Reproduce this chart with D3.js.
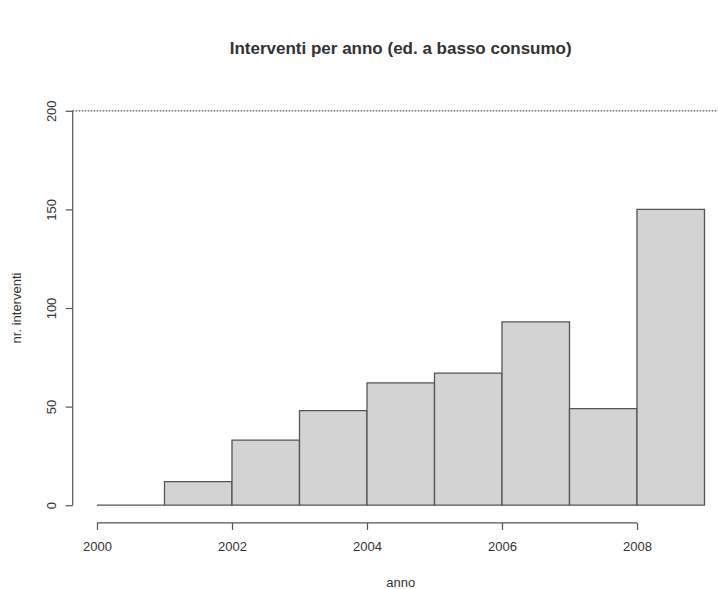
<!DOCTYPE html>
<html>
<head>
<meta charset="utf-8">
<script src="https://cdn.jsdelivr.net/npm/d3@7"></script>
<style>
  body { margin: 0; background: #fff; }
  svg { display: block; }
  text { font-family: "Liberation Sans", Arial, Helvetica, sans-serif; fill: #333; }
</style>
</head>
<body>
<svg id="chart" width="718" height="589"></svg>
<script>
// Data
const binStarts = [2000, 2001, 2002, 2003, 2004, 2005, 2006, 2007, 2008];
const counts    = [0, 12, 33, 48, 62, 67, 93, 49, 150];
const xTicks = [2000, 2002, 2004, 2006, 2008];
const yTicks = [0, 50, 100, 150, 200];
const refLine = 200;

const title = "Interventi per anno (ed. a basso consumo)";
const xLabel = "anno";
const yLabel = "nr. interventi";

const svg = d3.select("#chart");
const ink = "#555";

const x = d3.scaleLinear().domain([1999.64, 2009.36]).range([72.7, 728.8]);
const y = d3.scaleLinear().domain([-8, 208]).range([521, 95]);

// Bars (histogram style)
svg.append("g").selectAll("path")
  .data(binStarts.map((s, i) => ({s, e: s + 1, v: counts[i]})))
  .join("path")
  .attr("d", d => `M${x(d.s)},${y(0)}V${y(d.v)}H${x(d.e)}V${y(0)}Z`)
  .attr("fill", "#d3d3d3")
  .attr("stroke", ink)
  .attr("stroke-width", 1.3);

// Reference dotted line
svg.append("line")
  .attr("x1", x(1999.64)).attr("x2", x(2009.36))
  .attr("y1", y(refLine)).attr("y2", y(refLine))
  .attr("stroke", "#555").attr("stroke-width", 1.3)
  .attr("stroke-dasharray", "1.5,1.5");

// Y axis
const yAxis = svg.append("g")
  .attr("transform", `translate(${x(1999.64)},0)`)
  .call(d3.axisLeft(y).tickValues(yTicks).tickSize(7).tickSizeOuter(0).tickPadding(14));
yAxis.select(".domain").attr("d", `M0,${y(yTicks[0])}V${y(yTicks[yTicks.length-1])}`)
  .attr("stroke", ink).attr("stroke-width", 1.2);
yAxis.selectAll(".tick line").attr("stroke", ink).attr("stroke-width", 1.2);
yAxis.selectAll(".tick text")
  .attr("font-size", 13)
  .attr("fill", "#333")
  .attr("text-anchor", "middle")
  .attr("dy", null)
  .attr("x", null)
  .attr("transform", "translate(-21,0) rotate(-90)")
  .attr("dominant-baseline", "central");

// X axis
const xAxis = svg.append("g")
  .attr("transform", `translate(0,${y(-9)})`)
  .call(d3.axisBottom(x).tickValues(xTicks).tickFormat(d3.format("d")).tickSize(7).tickSizeOuter(0).tickPadding(12));
xAxis.select(".domain").attr("d", `M${x(xTicks[0])},0H${x(xTicks[xTicks.length-1])}`)
  .attr("stroke", ink).attr("stroke-width", 1.2);
xAxis.selectAll(".tick line").attr("stroke", ink).attr("stroke-width", 1.2);
xAxis.selectAll(".tick text").attr("font-size", 13).attr("fill", "#333");
svg.selectAll(".domain").attr("fill", "none");

// Title & labels
svg.append("text")
  .attr("x", 400.7).attr("y", 54)
  .attr("text-anchor", "middle")
  .attr("font-size", 17).attr("font-weight", "bold").attr("fill", "#222")
  .text(title);

svg.append("text")
  .attr("x", 400.7).attr("y", 587)
  .attr("text-anchor", "middle")
  .attr("font-size", 13)
  .text(xLabel);

svg.append("text")
  .attr("transform", `translate(21,${(y(-8)+y(208))/2}) rotate(-90)`)
  .attr("text-anchor", "middle")
  .attr("font-size", 13)
  .text(yLabel);
</script>
</body>
</html>
